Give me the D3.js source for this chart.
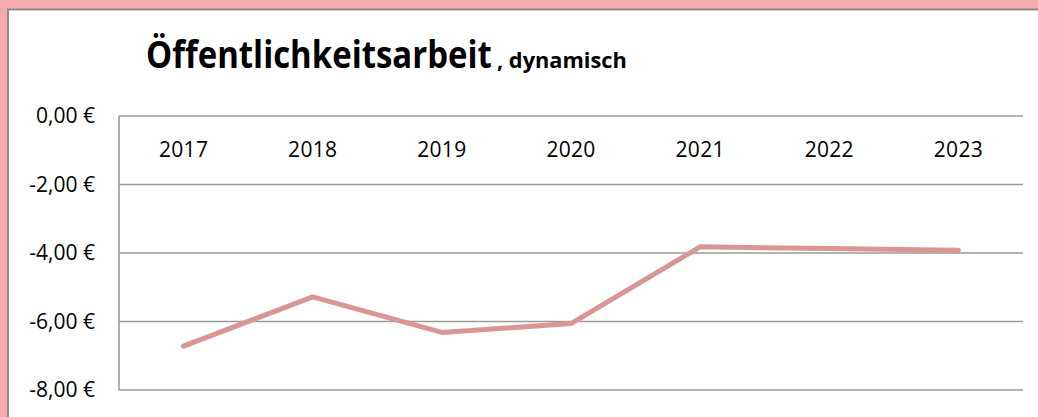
<!DOCTYPE html>
<html>
<head>
<meta charset="utf-8">
<script src="https://cdn.jsdelivr.net/npm/d3@7"></script>
<style>
  html, body { margin: 0; padding: 0; background: #fff; overflow: hidden; }
  text { font-family: "Open Sans", "Noto Sans", sans-serif; fill: #000; }
</style>
</head>
<body>
<svg id="chart"></svg>
<script>
// chart data
const years = ["2017", "2018", "2019", "2020", "2021", "2022", "2023"];
const values = [-6.72, -5.28, -6.32, -6.06, -3.82, -3.87, -3.92];
const yTicks = [0, -2, -4, -6, -8];

const w = 1038, h = 417;
const plot = { left: 119, right: 1023, top: 116, bottom: 390 };

const svg = d3.select("#chart").attr("width", w).attr("height", h);

// pink frame with grey inner edge
svg.append("rect").attr("width", w).attr("height", h).attr("fill", "#f5abab");
svg.append("rect")
   .attr("x", 8).attr("y", 9.5)
   .attr("width", w + 20).attr("height", h + 20)
   .attr("fill", "#fff")
   .attr("stroke", "#8c8c8c").attr("stroke-width", 2);

// title text squeezed horizontally to the narrow look of the original font
function squeezed(str, x0, y0, size, width) {
  const t = svg.append("text")
     .style("font-weight", "bold").style("font-size", size + "px")
     .text(str);
  const sx = width / t.node().getComputedTextLength();
  t.attr("transform", `translate(${x0},${y0}) scale(${sx},1)`);
  return t;
}
squeezed("Öffentlichkeitsarbeit", 146, 68, 37, 346);
squeezed(", dynamisch", 497, 68, 22, 130);

// scales
const x = d3.scalePoint().domain(years).range([plot.left, plot.right]).padding(0.5);
const y = d3.scaleLinear().domain([-8, 0]).range([plot.bottom, plot.top]);

const euro = d3.formatLocale({ decimal: ",", thousands: ".", grouping: [3], currency: ["", " €"] });
const fmt = v => euro.format(",.2f")(v).replace("−", "-") + " €";

// horizontal gridlines
svg.append("g")
   .selectAll("line")
   .data(yTicks)
   .join("line")
   .attr("x1", plot.left).attr("x2", plot.right)
   .attr("y1", d => y(d)).attr("y2", d => y(d))
   .attr("stroke", "#9a9a9a").attr("stroke-width", 1.6);

// left edge of plot area
svg.append("line")
   .attr("x1", plot.left).attr("x2", plot.left)
   .attr("y1", plot.top).attr("y2", plot.bottom)
   .attr("stroke", "#9a9a9a").attr("stroke-width", 1.6);

// y axis labels
svg.append("g")
   .selectAll("text")
   .data(yTicks)
   .join("text")
   .attr("x", 95).attr("y", d => y(d))
   .attr("text-anchor", "end").attr("dy", "0.35em")
   .style("font-size", "21px")
   .text(d => fmt(d));

// category labels (axis crosses at 0, labels sit under the top line)
svg.append("g")
   .selectAll("text")
   .data(years)
   .join("text")
   .attr("x", d => x(d)).attr("y", 150)
   .attr("text-anchor", "middle").attr("dy", "0.35em")
   .style("font-size", "21px")
   .style("letter-spacing", "0.3px")
   .text(d => d);

// the series line
const line = d3.line().x((d, i) => x(years[i])).y(d => y(d));
svg.append("path")
   .datum(values)
   .attr("d", line)
   .attr("fill", "none")
   .attr("stroke", "#d99694")
   .attr("stroke-width", 5)
   .attr("stroke-linecap", "round")
   .attr("stroke-linejoin", "round");
</script>
</body>
</html>
